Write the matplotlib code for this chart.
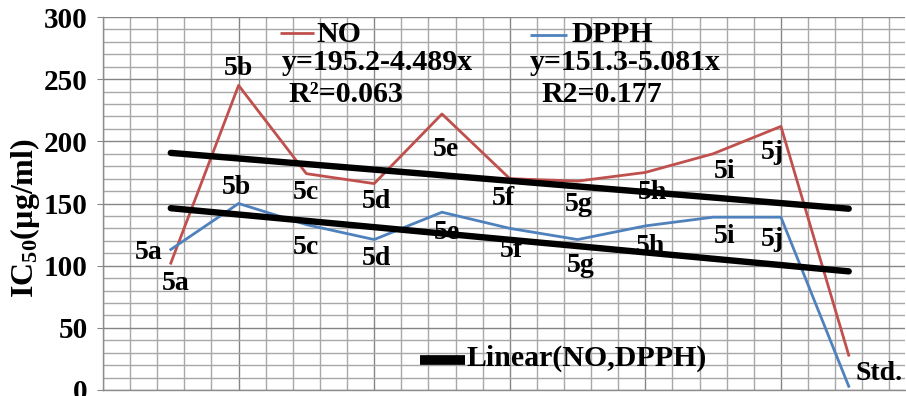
import numpy as np
import matplotlib
matplotlib.use('Agg')
import matplotlib.pyplot as plt
from matplotlib.ticker import MultipleLocator, FixedLocator, NullFormatter
from matplotlib.lines import Line2D

plt.rcParams['font.family'] = ['Liberation Serif', 'DejaVu Serif']
plt.rcParams['font.weight'] = 'bold'
plt.rcParams['mathtext.default'] = 'regular'

# data
categories = ['5a', '5b', '5c', '5d', '5e', '5f', '5g', '5h', '5i', '5j', 'Std.']
no_vals = [102, 245, 174, 166, 222, 170, 168, 175, 190, 212, 28]
dpph_vals = [113, 150, 133, 121, 143, 130, 121, 132, 139, 139, 3]
no_fit = [195.2, -4.489]      # intercept, slope (x = 1..11)
dpph_fit = [151.3, -5.081]
no_eq = 'y=195.2-4.489x'
no_r2 = 'R\u00b2=0.063'
dpph_eq = 'y=151.3-5.081x'
dpph_r2 = 'R2=0.177'

# label offsets in pixels (dx, dy) from each point
no_off = [(5, -20), (0, 17), (0, -19), (2, -18), (4, -36),
          (-6, -20), (1, -23), (7, -20), (11, -18), (-9, -26)]
dpph_off = [(-22, -3), (-2, 16), (0, -23), (2, -19), (5, -20),
            (2, -22), (3, -26), (5, -21), (11, -19), (-9, -22), (30, 13)]

RED = '#C0504D'
BLUE = '#4F81BD'
W, H = 906, 396

fig = plt.figure(figsize=(W / 100, H / 100), dpi=100)
ax = fig.add_axes([103 / W, 6 / H, 802 / W, 373 / H])

x = np.arange(len(categories))
ax.plot(x, no_vals, color=RED, lw=2.0, zorder=3)
ax.plot(x, dpph_vals, color=BLUE, lw=2.0, zorder=3)

xx = x + 1
ax.plot(x, no_fit[0] + no_fit[1] * xx, color='black', lw=4.6,
        solid_capstyle='round', zorder=4)
ax.plot(x, dpph_fit[0] + dpph_fit[1] * xx, color='black', lw=4.6,
        solid_capstyle='round', zorder=4)

fs = 20
for i in range(len(no_off)):
    ax.annotate(categories[i], (x[i], no_vals[i]), xytext=no_off[i],
                textcoords='offset pixels', ha='center', va='center',
                fontsize=fs, fontweight='bold', zorder=5)
for i in range(len(dpph_off)):
    ax.annotate(categories[i], (x[i], dpph_vals[i]), xytext=dpph_off[i],
                textcoords='offset pixels', ha='center', va='center',
                fontsize=fs, fontweight='bold', zorder=5)

ax.set_xlim(-1, 10.83)
ax.set_ylim(0, 300)
ax.xaxis.set_major_locator(FixedLocator(np.arange(-1, 11, 2)))
ax.xaxis.set_minor_locator(FixedLocator(np.arange(-0.6, 11, 0.4)))
ax.xaxis.set_major_formatter(NullFormatter())
ax.yaxis.set_major_locator(MultipleLocator(50))
ax.yaxis.set_minor_locator(MultipleLocator(10))
ax.tick_params(axis='x', which='both', length=0)
ax.tick_params(axis='y', which='major', length=4, color='#888888',
               labelsize=21, pad=7)
ax.tick_params(axis='y', which='minor', length=0)
ax.grid(True, which='major', color='#858585', linewidth=1.0)
ax.grid(True, which='minor', color='#a8a8a8', linewidth=1.0)
ax.set_axisbelow(True)
for lab in ax.get_yticklabels():
    lab.set_fontweight('bold')
for s in ['top', 'right']:
    ax.spines[s].set_visible(False)
for s in ['left', 'bottom']:
    ax.spines[s].set_color('#8c8c8c')
    ax.spines[s].set_linewidth(1.0)

fig.text(25 / W, 1 - 218 / H, 'IC$_{50}$(\u00b5g/ml)', rotation=90,
         ha='center', va='center', fontsize=23, fontweight='bold')


def fx(px):
    return px / W


def fy(py):
    return 1 - py / H


lfs = 21.5
# legend entries
fig.add_artist(Line2D([fx(280), fx(314)], [fy(33), fy(33)], color=RED, lw=2.0,
                      solid_capstyle='butt'))
fig.text(fx(316), fy(35), 'NO', ha='left', va='center', fontsize=lfs, fontweight='bold')
fig.text(fx(282), fy(63), no_eq, ha='left', va='center', fontsize=lfs, fontweight='bold')
fig.text(fx(288), fy(95), no_r2, ha='left', va='center', fontsize=lfs, fontweight='bold')

fig.add_artist(Line2D([fx(530), fx(567)], [fy(35), fy(35)], color=BLUE, lw=2.0,
                      solid_capstyle='butt'))
fig.text(fx(571), fy(35), 'DPPH', ha='left', va='center', fontsize=lfs, fontweight='bold')
fig.text(fx(530), fy(63), dpph_eq, ha='left', va='center', fontsize=lfs, fontweight='bold')
fig.text(fx(541), fy(95), dpph_r2, ha='left', va='center', fontsize=lfs, fontweight='bold')

fig.add_artist(Line2D([fx(420), fx(465)], [fy(360), fy(360)], color='black', lw=7,
                      solid_capstyle='butt'))
fig.text(fx(467), fy(358), 'Linear(NO,DPPH)', ha='left', va='center',
         fontsize=lfs, fontweight='bold')

fig.savefig('out.png', dpi=100)
